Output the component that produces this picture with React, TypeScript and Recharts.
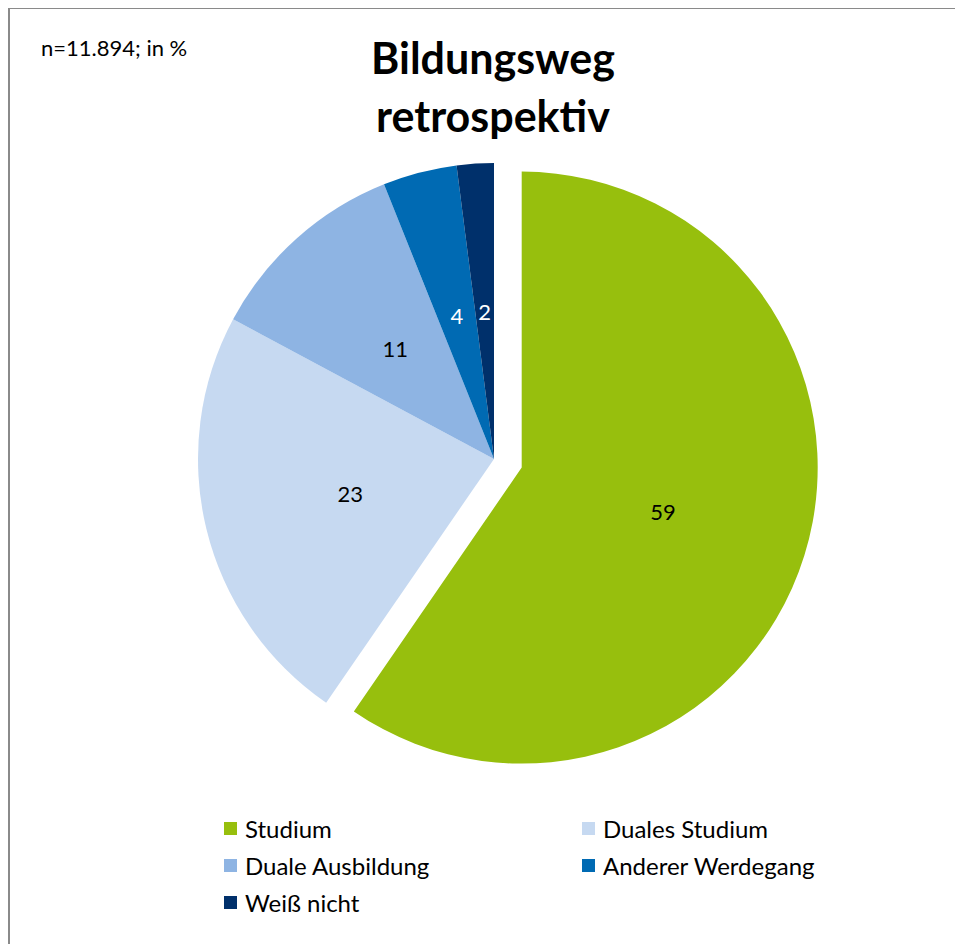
import { Cell, Legend, Pie, PieChart } from 'recharts'

const categories = ['Studium', 'Duales Studium', 'Duale Ausbildung', 'Anderer Werdegang', 'Weiß nicht']
const shares = [59, 23, 11, 4, 2]
const colors = ['#97bf0d', '#c6d9f1', '#8eb4e3', '#006ab3', '#00306b']
const labelColors = ['#000', '#000', '#000', '#fff', '#fff']

const FONT = 'Lato, "Open Sans", sans-serif'

const data = categories.map((name, i) => ({ name, value: shares[i] }))
const total = shares.reduce((a, b) => a + b, 0)

// exploded first slice: push it out along its own mid angle
const EXPLODE = 29
const midDeg = 90 - (shares[0] / 2 / total) * 360
const dx = EXPLODE * Math.cos((midDeg * Math.PI) / 180)
const dy = -EXPLODE * Math.sin((midDeg * Math.PI) / 180)

const CX = 484
const CY = 450
const R = 296

function renderLabel(only: (i: number) => boolean) {
  return (props: any) => {
    const { cx, cy, midAngle, outerRadius, index, value } = props
    if (!only(index)) return null
    const rad = (midAngle * Math.PI) / 180
    const r = outerRadius * 0.5
    return (
      <text
        x={cx + r * Math.cos(rad)}
        y={cy - r * Math.sin(rad)}
        textAnchor="middle"
        dominantBaseline="central"
        fill={labelColors[index]}
        fontSize={22}
        fontFamily={FONT}
      >
        {value}
      </text>
    )
  }
}

function LegendBox() {
  return (
    <div
      style={{
        display: 'grid',
        gridTemplateColumns: '358px 300px',
        rowGap: 13,
        fontFamily: FONT,
        fontSize: 24,
        color: '#000',
      }}
    >
      {categories.map((c, i) => (
        <div key={c} style={{ display: 'flex', alignItems: 'center', height: 24 }}>
          <span style={{ width: 13, height: 13, background: colors[i], marginRight: 8, flexShrink: 0 }} />
          {c}
        </div>
      ))}
    </div>
  )
}

export default function App() {
  return (
    <div style={{ width: 955, height: 936, overflow: 'hidden' }}>
      <div
        style={{
          position: 'relative',
          width: 1000,
          height: 1000,
          borderLeft: '2px solid #8a8a8a',
          borderTop: '2px solid #8a8a8a',
          marginTop: -1,
          background: '#fff',
        }}
      >
        <div
          style={{
            position: 'absolute',
            left: 31,
            top: 25,
            fontFamily: FONT,
            fontSize: 22,
          }}
        >
          n=11.894; in %
        </div>
        <div
          style={{
            position: 'absolute',
            left: 283,
            width: 400,
            top: 20,
            textAlign: 'center',
            fontFamily: FONT,
            fontWeight: 700,
            fontSize: 43,
            lineHeight: '58px',
          }}
        >
          Bildungsweg
          <br />
          retrospektiv
        </div>
        <PieChart width={955} height={936} margin={{ top: 0, right: 0, bottom: 0, left: 0 }}>
          <Pie
            data={data}
            dataKey="value"
            nameKey="name"
            cx={CX}
            cy={CY}
            outerRadius={R}
            startAngle={90}
            endAngle={-270}
            stroke="none"
            labelLine={false}
            label={renderLabel((i) => i !== 0)}
            isAnimationActive={false}
          >
            {data.map((d, i) => (
              <Cell key={d.name} fill={i === 0 ? 'none' : colors[i]} />
            ))}
          </Pie>
          <Pie
            data={data}
            dataKey="value"
            nameKey="name"
            cx={CX + dx}
            cy={CY + dy}
            outerRadius={R}
            startAngle={90}
            endAngle={-270}
            stroke="none"
            labelLine={false}
            label={renderLabel((i) => i === 0)}
            legendType="none"
            isAnimationActive={false}
          >
            {data.map((d, i) => (
              <Cell key={d.name} fill={i === 0 ? colors[0] : 'none'} />
            ))}
          </Pie>
          <Legend
            content={() => <LegendBox />}
            wrapperStyle={{ position: 'absolute', left: 214, top: 807, width: 680 }}
          />
        </PieChart>
      </div>
    </div>
  )
}
